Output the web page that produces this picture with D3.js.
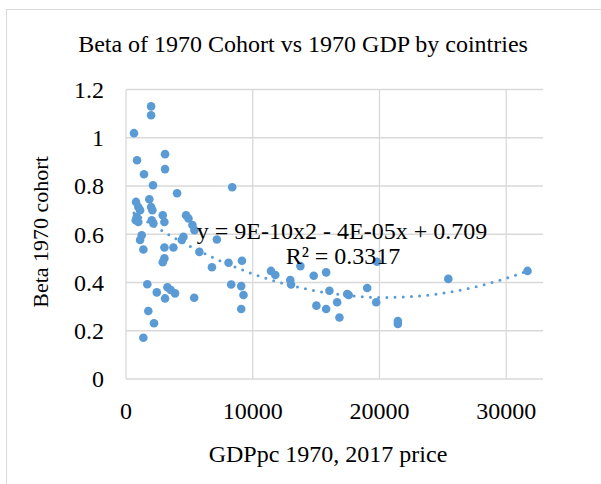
<!DOCTYPE html>
<html>
<head>
<meta charset="utf-8">
<script src="https://cdn.jsdelivr.net/npm/d3@7"></script>
<style>
  html, body { margin: 0; padding: 0; background: #fff; }
  svg text { font-family: "Liberation Serif", "Times New Roman", serif; fill: #000; }
</style>
</head>
<body>
<div id="chart"></div>
<script>
// values (GDP per capita 1970, beta of the 1970 cohort)
var gdp = [1980, 1980, 630, 870, 3080, 3080, 1420, 2130, 8380, 4030, 1840, 790, 970, 1110, 1980, 2080,
  850, 970, 770, 2030, 2160, 2900, 3030, 4740, 4930, 5240, 5400, 1240, 1110, 1370, 3030, 3740,
  4530, 4400, 3030, 2900, 5790, 6780, 1680, 2430, 3270, 3530, 3870, 3080, 5380, 1760, 2210, 1370,
  7170, 8090, 9150, 8300, 9090, 9270, 9090, 11440, 11780, 12960, 13020, 13760, 14810, 15790,
  16050, 15020, 15790, 16660, 16840, 17450, 17570, 19030, 19740, 19800, 21450, 21450, 25430, 31680];
var beta = [1.130, 1.093, 1.019, 0.907, 0.932, 0.870, 0.849, 0.803, 0.795, 0.770, 0.745, 0.734, 0.713, 0.700, 0.713, 0.700,
  0.672, 0.651, 0.658, 0.658, 0.645, 0.679, 0.651, 0.679, 0.665, 0.638, 0.617, 0.596, 0.576, 0.537, 0.545, 0.545,
  0.589, 0.576, 0.500, 0.484, 0.527, 0.463, 0.393, 0.359, 0.380, 0.369, 0.355, 0.334, 0.337, 0.282, 0.231, 0.171,
  0.578, 0.482, 0.490, 0.392, 0.385, 0.348, 0.290, 0.448, 0.431, 0.410, 0.392, 0.468, 0.428, 0.442,
  0.366, 0.304, 0.290, 0.318, 0.255, 0.352, 0.348, 0.377, 0.318, 0.486, 0.240, 0.228, 0.415, 0.448];

var xTicks = [0, 10000, 20000, 30000];
var yTicks = [0, 0.2, 0.4, 0.6, 0.8, 1, 1.2];

var title = "Beta of 1970 Cohort vs 1970 GDP by cointries";
var xTitle = "GDPpc 1970, 2017 price";
var yTitle = "Beta 1970 cohort";
var eqLines = ["y = 9E-10x2 - 4E-05x + 0.709", "R\u00b2 = 0.3317"];

var W = 601, H = 484;
var blue = "#5b9bd5", grid = "#d9d9d9";

var svg = d3.select("#chart").append("svg")
  .attr("width", W).attr("height", H);

// chart frame (cropped on the right and bottom)
svg.append("rect")
  .attr("x", 6.5).attr("y", 9.5)
  .attr("width", 700).attr("height", 600)
  .style("fill", "#fff").style("stroke", grid);

var x = d3.scaleLinear().domain([0, 32900]).range([126, 543]);
var y = d3.scaleLinear().domain([0, 1.2]).range([379, 89.5]);

// gridlines
svg.append("g").selectAll("line.h").data(yTicks).enter().append("line")
  .attr("x1", x(0)).attr("x2", x.range()[1])
  .attr("y1", function(d) { return y(d); }).attr("y2", function(d) { return y(d); })
  .style("stroke", grid).style("stroke-width", 1.3);
svg.append("g").selectAll("line.v").data(xTicks).enter().append("line")
  .attr("x1", function(d) { return x(d); }).attr("x2", function(d) { return x(d); })
  .attr("y1", y(0)).attr("y2", y(1.2))
  .style("stroke", grid).style("stroke-width", 1.3);

// tick labels
svg.append("g").selectAll("text").data(yTicks).enter().append("text")
  .attr("x", 104).attr("y", function(d) { return y(d); })
  .attr("dy", "0.35em").attr("text-anchor", "end")
  .style("font-size", "24px")
  .text(function(d) { return d3.format("~g")(d); });
svg.append("g").selectAll("text").data(xTicks).enter().append("text")
  .attr("x", function(d) { return x(d); }).attr("y", 419)
  .attr("text-anchor", "middle")
  .style("font-size", "24px")
  .text(function(d) { return d; });

// titles
svg.append("text").attr("x", 303).attr("y", 52).attr("text-anchor", "middle")
  .style("font-size", "24px").text(title);
svg.append("text").attr("x", 328).attr("y", 462).attr("text-anchor", "middle")
  .style("font-size", "24px").text(xTitle);
svg.append("text").attr("transform", "translate(48,232) rotate(-90)")
  .attr("text-anchor", "middle")
  .style("font-size", "22px").text(yTitle);

// points
svg.append("g").selectAll("circle").data(gdp).enter().append("circle")
  .attr("cx", function(d) { return x(d); })
  .attr("cy", function(d, i) { return y(beta[i]); })
  .attr("r", 4.3)
  .style("fill", blue);

// polynomial (order 2) trendline, least squares on the points
function quadFit(xs, ys) {
  var s = [0, 0, 0, 0, 0], t = [0, 0, 0];
  for (var i = 0; i < xs.length; i++) {
    var xv = xs[i] / 10000, p = 1;
    for (var k = 0; k < 5; k++) { s[k] += p; if (k < 3) t[k] += p * ys[i]; p *= xv; }
  }
  var m = [[s[0], s[1], s[2], t[0]], [s[1], s[2], s[3], t[1]], [s[2], s[3], s[4], t[2]]];
  for (var c = 0; c < 3; c++) {
    for (var r = c + 1; r < 3; r++) {
      var f = m[r][c] / m[c][c];
      for (var j = c; j < 4; j++) m[r][j] -= f * m[c][j];
    }
  }
  var b = [0, 0, 0];
  for (var r2 = 2; r2 >= 0; r2--) {
    var v = m[r2][3];
    for (var j2 = r2 + 1; j2 < 3; j2++) v -= m[r2][j2] * b[j2];
    b[r2] = v / m[r2][r2];
  }
  return function(xx) { var u = xx / 10000; return b[0] + b[1] * u + b[2] * u * u; };
}
var trend = quadFit(gdp, beta);
var xmin = d3.min(gdp), xmax = d3.max(gdp);
var trendPts = d3.range(0, 101).map(function(i) { return xmin + (xmax - xmin) * i / 100; });

svg.append("path")
  .datum(trendPts)
  .attr("d", d3.line().x(function(d) { return x(d); }).y(function(d) { return y(trend(d)); }))
  .style("fill", "none").style("stroke", blue)
  .style("stroke-width", 3).style("stroke-linecap", "round")
  .style("stroke-dasharray", "0 8.2");

// equation label
var eq = svg.append("text").attr("text-anchor", "middle").style("font-size", "24px");
eq.append("tspan").attr("x", 342).attr("y", 239).text(eqLines[0]);
eq.append("tspan").attr("x", 343).attr("y", 264).text(eqLines[1]);
</script>
</body>
</html>
